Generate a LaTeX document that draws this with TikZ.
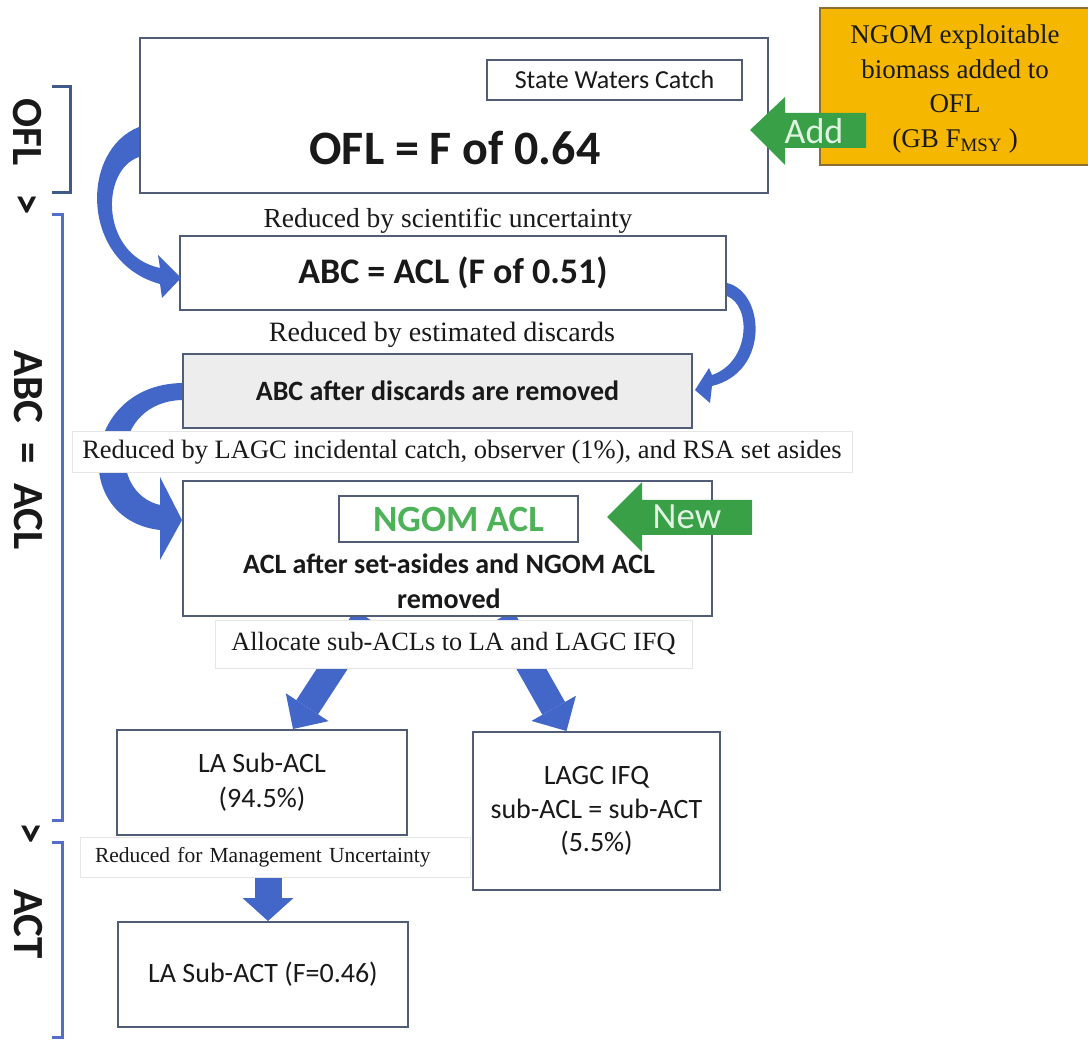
\documentclass[tikz,border=0pt]{standalone}
\usepackage{fontspec}
\setmainfont{Carlito}
\newfontfamily\tnr{Liberation Serif}
\usetikzlibrary{arrows.meta}
\definecolor{boxline}{RGB}{80,92,120}
\definecolor{arrowblue}{RGB}{66,103,200}
\definecolor{brkblue}{RGB}{82,110,200}
\definecolor{brkdark}{RGB}{65,90,140}
\definecolor{addgreen}{RGB}{58,160,72}
\definecolor{pale}{RGB}{222,243,224}
\definecolor{ngomgreen}{RGB}{78,178,88}
\definecolor{gold}{RGB}{245,183,0}
\definecolor{goldline}{RGB}{140,110,50}
\definecolor{lightgray}{RGB}{237,237,237}
\definecolor{faint}{RGB}{230,230,230}
\definecolor{ink}{RGB}{25,25,25}
\begin{document}
\begin{tikzpicture}[x=1pt,y=-1pt,
  box/.style={draw=boxline,line width=2pt,fill=white,inner sep=0pt,align=center,text=ink},
  caption/.style={draw=faint,line width=1pt,fill=white,inner sep=0pt,text=ink},
  captext/.style={font=\tnr\fontsize{27.5}{33}\selectfont,text=ink,inner sep=0pt},
  sidelabel/.style={font=\bfseries\fontsize{43}{50}\selectfont,rotate=-90,inner sep=0pt,text=ink},
  bracket/.style={line width=3pt,draw=brkblue},
  fatarrow/.style={draw=arrowblue,line width=26pt,-{Triangle[width=51pt,length=26pt,line width=0pt]}},
  curvearrow/.style={fill=arrowblue,draw=none},
  greenarrow/.style={fill=addgreen,draw=none},
]
\useasboundingbox (0,0) rectangle (1088,1040);
\fill[white] (0,0) rectangle (1088,1040);

% main boxes
\node[box,minimum width=628,minimum height=155] (ofl) at (454,115.5) {};
\node[box,line width=1.5pt,minimum width=255,minimum height=40,font=\fontsize{26}{30}\selectfont] (swc) at (614.5,80) {State Waters Catch};
\node[font=\bfseries\fontsize{48}{56}\selectfont,text=ink,inner sep=0pt] (ofltext) at (455,148) {OFL = F of 0.64};

\node[box,minimum width=546,minimum height=74,font=\bfseries\fontsize{36}{42}\selectfont] (abc) at (453,273) {ABC = ACL (F of 0.51)};
\node[box,fill=lightgray,minimum width=509,minimum height=74,font=\bfseries\fontsize{28}{34}\selectfont] (disc) at (437.5,391) {ABC after discards are removed};
\node[box,minimum width=529,minimum height=135] (acl) at (447.5,548.5) {};
\node[box,minimum width=239,minimum height=46,text=ngomgreen,font=\bfseries\fontsize{37}{44}\selectfont] (ngom) at (458.5,519) {NGOM ACL};
\node[font=\bfseries\fontsize{28}{35}\selectfont,align=center,text=ink,inner sep=0pt] (acltext) at (449,581) {ACL after set-asides and NGOM ACL\\removed};

\node[box,minimum width=290,minimum height=105,font=\fontsize{28}{35}\selectfont] (la) at (262,782.5) {LA Sub-ACL\\(94.5\%)};
\node[box,minimum width=247,minimum height=158,font=\fontsize{28}{33.5}\selectfont] (ifq) at (596.5,811) {LAGC IFQ\\sub-ACL = sub-ACT\\(5.5\%)};
\node[box,minimum width=290,minimum height=105,font=\fontsize{28}{34}\selectfont] (act) at (263,974.5) {LA Sub-ACT (F=0.46)};

% orange box
\node[draw=goldline,line width=1.5pt,fill=gold,minimum width=275,minimum height=157,inner sep=0pt] (goldbox) at (957.5,86.5) {};
\node[font=\tnr\fontsize{27}{34.5}\selectfont,align=center,text=ink,inner sep=0pt] (goldtext) at (955,89) {NGOM exploitable\\biomass added to\\OFL\\(GB F\textsubscript{MSY} )};

% curved arrows
\fill[curvearrow] ([shift={(0,11.5)}]ofl.west) .. controls (80,150) and (80,262) .. (160,284) -- (162,298) -- ([shift={(2,5)}]abc.west) -- (158,255) -- (160,268) .. controls (100,255) and (100,170) .. ([shift={(0,41.5)}]ofl.west) -- cycle;
\fill[curvearrow] ([shift={(0,10)}]abc.east) .. controls (765,292) and (770,372) .. (712,386) -- (710,403) -- ([shift={(2,-1)}]disc.east) -- (709,368) -- (712,375) .. controls (750,362) and (752,306) .. ([shift={(0,23)}]abc.east) -- cycle;
\fill[curvearrow] ([shift={(0,-8)}]disc.west) .. controls (80,385) and (70,520) .. (160,530) -- (160,560) -- ([shift={(0,-28.5)}]acl.west) -- (160,477) -- (160,505) .. controls (108,493) and (112,402) .. ([shift={(0,9)}]disc.west) -- cycle;

% straight arrows
\begin{scope}
\clip (0,617) rectangle (1088,1040);
\draw[fatarrow] ([shift={(-81.5,0)}]acl.south) -- ([shift={(31,0)}]la.north);
\draw[fatarrow] ([shift={(54.5,0)}]acl.south) -- ([shift={(-30,0)}]ifq.north);
\end{scope}
\begin{scope}
\clip (0,878) rectangle (1088,1040);
\draw[fatarrow,line width=27pt,-{Triangle[width=51pt,length=23pt,line width=0pt]}] ([shift={(6,0)}]la.south) -- ([shift={(5,0)}]act.north);
\end{scope}

% captions
\node[captext] (c1) at (448,221) {Reduced by scientific uncertainty};
\node[captext,font=\tnr\fontsize{28}{33}\selectfont] (c2) at (442,335) {Reduced by estimated discards};
\node[caption,minimum width=780,minimum height=41,font=\tnr\fontsize{26.5}{31}\selectfont] (c3) at (462,452.5) {Reduced by LAGC incidental catch, observer (1\%), and RSA set asides};
\node[caption,minimum width=477,minimum height=48,font=\tnr\fontsize{26.3}{31}\selectfont] (c4) at (453.5,644) {Allocate sub-ACLs to LA and LAGC IFQ};
\node[caption,text width=360,inner xsep=15pt,align=left,minimum height=40,font=\tnr\fontsize{21.5}{26}\selectfont] (c5) at (275,857.5) {Reduced for Management Uncertainty};

% green arrows
\fill[greenarrow] (750,130) -- (785,97) -- (785,113) -- (866,113) -- (866,148) -- (785,148) -- (785,165) -- cycle;
\node[text=pale,font=\fontsize{36}{40}\selectfont,inner sep=0pt] (addtext) at (814,131) {Add};
\fill[greenarrow] (607,517) -- (642,482) -- (642,500) -- (752,500) -- (752,535) -- (642,535) -- (642,552) -- cycle;
\node[text=pale,font=\fontsize{37}{40}\selectfont,inner sep=0pt] (newtext) at (687,517) {New};

% brackets
\draw[bracket,draw=brkdark] (52,87) -- (70,87) -- (70,193) -- (52,193);
\draw[bracket] (52,215) -- (62,215) -- (62,820) -- (52,820);
\draw[bracket] (52,842) -- (62,842) -- (62,1037) -- (52,1037);

% side labels
\node[sidelabel] (lofl) at (27,132) {OFL};
\node[sidelabel] (lgt1) at (25,204) {>};
\node[sidelabel] (labc) at (28,450) {ABC~~=~~ACL};
\node[sidelabel] (lgt2) at (29,833) {>};
\node[sidelabel] (lact) at (28,924) {ACT};
\end{tikzpicture}
\end{document}
